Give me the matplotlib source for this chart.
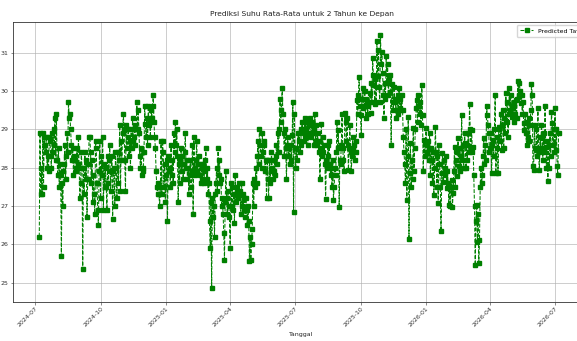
import matplotlib
matplotlib.use("Agg")
import matplotlib.pyplot as plt
import matplotlib.dates as mdates
import pandas as pd
import numpy as np

start_date = "2024-07-07"
series_label = "Predicted Tavg"
title = "Prediksi Suhu Rata-Rata untuk 2 Tahun ke Depan"
xlabel = "Tanggal"
yticks = [25, 26, 27, 28, 29, 30, 31]

tavg = [
    26.2, 28.9, 27.3, 28.0, 27.3, 28.9, 27.5, 28.8, 28.6, 28.4,
    28.8, 28.0, 28.3, 27.9, 28.8, 28.7, 28.3, 28.0, 28.9, 28.4,
    29.0, 28.6, 29.3, 28.2, 29.4, 28.2, 27.8, 28.5, 27.5, 28.1,
    27.8, 25.7, 27.6, 27.0, 27.9, 28.1, 28.6, 27.7, 28.3, 28.9,
    28.4, 29.7, 29.3, 29.4, 29.0, 28.6, 28.2, 28.5, 27.8, 28.3,
    28.2, 27.9, 28.0, 28.5, 28.1, 28.8, 28.0, 27.2, 27.6, 28.4,
    28.0, 25.35, 28.0, 27.3, 28.4, 27.7, 28.2, 26.7, 27.7, 28.1,
    28.8, 28.8, 28.4, 27.6, 28.2, 27.1, 27.8, 27.3, 26.8, 28.7,
    28.5, 27.6, 26.9, 26.5, 27.9, 28.7, 27.2, 28.3, 27.8, 28.8,
    26.9, 28.1, 27.5, 28.0, 27.5, 26.9, 28.3, 27.6, 28.2, 28.6,
    27.4, 27.9, 28.3, 26.65, 27.9, 28.0, 27.0, 28.4, 28.0, 27.2,
    28.4, 27.6, 28.2, 29.1, 27.4, 28.7, 28.2, 28.9, 29.4, 29.0,
    28.2, 27.4, 29.1, 28.5, 28.8, 29.0, 28.3, 28.7, 28.0, 29.0,
    28.5, 29.3, 28.7, 28.8, 29.1, 28.6, 29.0, 29.7, 29.0, 29.5,
    28.9, 28.3, 28.0, 28.5, 27.8, 27.9, 28.0, 28.4, 29.6, 29.15,
    28.8, 29.3, 28.6, 29.6, 29.1, 29.2, 28.8, 29.5, 29.3, 29.6,
    29.9, 29.2, 28.8, 28.5, 27.9, 27.5, 27.3, 27.6, 27.3, 27.0,
    27.5, 28.7, 27.3, 28.7, 28.4, 27.5, 28.1, 27.1, 27.8, 28.2,
    26.6, 28.3, 27.9, 28.0, 27.5, 28.6, 27.8, 28.2, 27.6, 28.9,
    28.4, 29.2, 28.6, 29.0, 28.3, 27.1, 28.1, 27.6, 28.2, 28.5,
    27.9, 28.3, 27.7, 28.1, 28.4, 28.9, 28.0, 28.2, 27.7, 28.0,
    27.3, 27.8, 28.2, 27.5, 27.9, 28.6, 26.8, 28.8, 28.0, 27.8,
    28.2, 28.7, 27.9, 28.1, 28.3, 27.8, 28.1, 27.6, 28.0, 27.7,
    28.1, 27.6, 27.9, 28.2, 28.5, 27.7, 28.0, 27.3, 27.6, 26.6,
    25.9, 27.1, 24.85, 27.2, 26.7, 27.0, 26.2, 27.3, 27.6, 28.0,
    27.4, 28.5, 27.8, 28.2, 27.6, 27.7, 27.0, 27.2, 26.8, 26.3,
    25.6, 27.1, 27.9, 27.2, 26.8, 27.4, 27.0, 26.7, 25.9, 27.6,
    27.0, 27.5, 26.9, 27.3, 26.55, 27.8, 27.1, 27.4, 27.5, 27.2,
    27.6, 27.3, 27.4, 26.8, 27.6, 27.0, 27.3, 26.9, 27.2, 26.7,
    27.2, 26.9, 26.5, 27.0, 26.6, 25.55, 26.2, 25.6, 26.0, 26.4,
    27.6, 27.0, 27.7, 27.5, 28.0, 27.6, 28.3, 28.7, 28.1, 29.0,
    28.6, 28.3, 28.0, 28.9, 28.4, 28.7, 28.6, 27.9, 28.2, 27.2,
    28.2, 27.7, 27.2, 28.2, 27.6, 27.9, 28.4, 28.0, 27.7, 27.9,
    28.2, 27.8, 28.3, 28.6, 28.1, 28.9, 28.4, 29.0, 29.8, 29.2,
    29.5, 30.07, 29.4, 28.9, 28.3, 29.0, 28.5, 27.7, 28.6, 28.8,
    28.3, 28.5, 28.1, 28.6, 28.2, 28.85, 29.7, 26.83, 29.4, 28.5,
    28.0, 28.5, 28.2, 28.9, 28.7, 28.9, 28.4, 28.6, 29.0, 29.2,
    29.0, 28.7, 28.9, 29.3, 29.0, 28.8, 29.2, 28.6, 29.1, 28.9,
    29.3, 29.1, 28.8, 29.2, 28.9, 28.6, 29.0, 29.4, 28.7, 29.1,
    28.6, 28.9, 28.4, 28.7, 27.7, 28.5, 29.15, 28.3, 28.8, 28.4,
    28.6, 28.1, 27.17, 28.2, 28.0, 28.6, 28.3, 28.7, 28.1, 27.8,
    28.0, 27.5, 28.2, 27.16, 27.5, 28.0, 27.8, 28.4, 29.2, 28.5,
    28.98, 26.98, 28.2, 28.1, 28.6, 29.4, 28.5, 28.2, 27.9, 29.42,
    29.2, 28.7, 29.3, 28.6, 27.95, 28.5, 29.1, 28.4, 27.9, 28.3,
    28.8, 28.5, 28.6, 28.2, 28.4, 28.7, 29.77, 29.4, 29.9, 30.36,
    29.6, 29.37, 28.85, 29.8, 30.07, 29.55, 29.6, 30.0, 29.3, 29.8,
    29.72, 29.4, 29.6, 29.7, 29.94, 29.42, 30.2, 29.7, 30.85, 30.42,
    30.15, 29.67, 30.3, 29.7, 31.3, 30.4, 31.07, 30.1, 29.7, 31.46,
    30.7, 31.03, 30.46, 29.9, 29.29, 30.2, 29.8, 30.9, 30.2, 30.7,
    29.9, 30.3, 30.42, 29.98, 28.6, 30.17, 29.7, 29.5, 30.1, 29.8,
    29.7, 29.3, 29.5, 29.9, 29.4, 30.07, 29.55, 29.8, 29.5, 29.9,
    29.5, 28.8, 28.4, 28.1, 27.6, 29.0, 27.16, 28.3, 29.33, 26.14,
    27.85, 28.64, 27.5, 28.2, 27.7, 29.03, 27.9, 28.5, 29.0, 29.55,
    29.77, 29.2, 29.9, 29.6, 29.4, 29.7, 29.1, 30.16, 29.37, 27.92,
    28.72, 28.3, 28.68, 29.03, 28.6, 28.4, 28.7, 28.2, 28.9, 27.8,
    28.5, 28.2, 27.6, 28.4, 27.29, 28.0, 29.07, 28.4, 27.5, 28.3,
    27.07, 28.6, 28.1, 27.5, 26.35, 27.85, 28.37, 27.63, 28.2, 27.8,
    28.0, 28.3, 27.46, 27.9, 27.6, 27.03, 27.5, 27.0, 27.5, 27.68,
    26.98, 27.33, 27.9, 28.55, 27.5, 28.2, 27.77, 28.4, 28.77, 28.03,
    28.5, 27.9, 28.3, 29.37, 28.2, 28.6, 28.0, 28.9, 28.63, 27.98,
    28.6, 28.2, 28.9, 28.4, 29.65, 29.0, 28.5, 28.98, 28.4, 28.55,
    27.8, 27.0, 25.45, 26.6, 27.03, 26.07, 26.8, 25.5, 26.11, 27.5,
    28.0, 27.6, 27.8, 28.3, 28.78, 28.1, 28.6, 28.2, 29.6, 29.37,
    29.1, 28.9, 28.4, 28.5, 28.9, 27.85, 28.6, 28.72, 28.3, 29.0,
    29.9, 27.85, 28.5, 28.8, 27.85, 29.0, 29.07, 28.7, 29.4, 28.46,
    29.1, 29.5, 28.5, 29.3, 28.9, 29.94, 29.2, 29.72, 28.8, 29.4,
    30.07, 29.5, 29.9, 29.6, 29.33, 29.55, 29.2, 29.7, 29.4, 29.77,
    29.3, 29.8, 30.27, 29.9, 30.2, 30.0, 29.68, 29.9, 29.4, 29.72,
    29.16, 28.98, 29.4, 28.9, 28.6, 29.2, 28.8, 29.3, 28.7, 29.1,
    29.5, 30.18, 29.9, 28.03, 27.94, 29.1, 28.5, 28.46, 29.0, 28.3,
    29.55, 28.4, 27.94, 28.8, 28.5, 29.11, 28.77, 28.2, 28.9, 28.4,
    29.6, 28.55, 27.98, 28.7, 27.66, 28.6, 28.0, 28.9, 28.3, 29.46,
    29.16, 28.6, 29.0, 28.4, 29.55, 28.46, 29.0, 28.03, 27.8, 28.9,
]

dates = pd.date_range(start_date, periods=len(tavg), freq="D")

W, H = 577, 341
fig = plt.figure(figsize=(W / 100, H / 100), dpi=100)
ax_left, ax_right, ax_top, ax_bottom = 13, 590, 22, 301.7
ax = fig.add_axes([ax_left / W, (H - ax_bottom) / H,
                   (ax_right - ax_left) / W, (ax_bottom - ax_top) / H])

ax.plot(dates, tavg, linestyle="--", marker="s", color="green",
        markersize=3.1, linewidth=0.75, label=series_label)

ref = pd.Timestamp("2024-07-01")
px_per_day = 520 / 730
ax.set_xlim(ref - pd.Timedelta(days=(35 - ax_left) / px_per_day),
            ref + pd.Timedelta(days=(ax_right - 35) / px_per_day))
ax.set_ylim(24.5, 31.8)
ax.set_yticks(yticks)

ax.xaxis.set_major_locator(mdates.MonthLocator(bymonth=[1, 4, 7, 10]))
ax.xaxis.set_major_formatter(mdates.DateFormatter("%Y-%m"))
plt.setp(ax.get_xticklabels(), rotation=45, ha="right", rotation_mode="anchor")

ax.tick_params(labelsize=4.5, length=1.8, width=0.4, pad=1.5, colors="#333333")
ax.grid(True, color="#b0b0b0", linewidth=0.55, alpha=0.8)
for s in ax.spines.values():
    s.set_linewidth(0.6)
    s.set_color("#333333")

ax.set_title(title, fontsize=5.4, pad=4, color="#222222")
ax.set_xlabel(xlabel, fontsize=4.5, labelpad=3, color="#222222")
ax.legend(loc="upper right", fontsize=4.5, framealpha=0.8, borderpad=0.5,
          handlelength=2.0, edgecolor="#cccccc")

fig.savefig("out.png", dpi=100)
